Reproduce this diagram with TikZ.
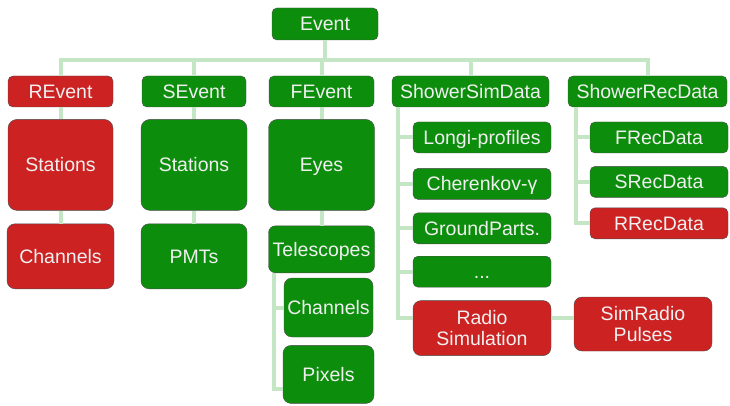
\documentclass[tikz,border=0pt]{standalone}
\usepackage{fontspec}
\setmainfont{Liberation Sans}
\usepackage{tikz}
\usetikzlibrary{calc}
\usetikzlibrary{positioning}
\definecolor{evgreen}{RGB}{12,142,12}
\definecolor{evred}{RGB}{204,34,34}
\definecolor{linkgreen}{RGB}{196,230,196}

\begin{document}
\begin{tikzpicture}[x=1pt,y=1pt]
\tikzstyle{gbox}=[draw=black!70, fill=evgreen, text=white!94!black, rounded 
corners=5pt, inner sep=1pt, align=center, minimum height=31pt, text depth=0pt, 
font=\fontsize{19.5}{21}\selectfont]
\tikzstyle{rbox}=[gbox, fill=evred]
\tikzstyle{link}=[line width=4pt, draw=linkgreen]
	\useasboundingbox (0,0) rectangle (730,-406);

	% top
	\node [gbox, minimum width = 106pt, minimum height = 32pt] (Event) at 
	(325,-24) {Event};
	\coordinate (bus) at (325,-60);

	% sub events
	\node [rbox, minimum width = 105pt] (REvent) at (60.5,-91.5) {REvent};
	\node [gbox, minimum width = 104pt] (SEvent) at (194,-91.5) {SEvent};
	\node [gbox, minimum width = 105pt] (FEvent) at (321.5,-91.5) {FEvent};
	\node [gbox, minimum width = 157pt] (ShowerSimData) at (470.5,-91.5) 
	{ShowerSimData};
	\node [gbox, minimum width = 159pt] (ShowerRecData) at (647.5,-91.5) 
	{ShowerRecData};

	% stations
	\node [rbox, minimum width = 105pt, minimum height = 91pt, rounded 
	corners = 9pt, below = 12pt of REvent] (RStations) {Stations};
	\node [gbox, minimum width = 106pt, minimum height = 91pt, rounded 
	corners = 9pt, below = 12pt of SEvent] (SStations) {Stations};
	\node [gbox, minimum width = 106pt, minimum height = 91pt, rounded 
	corners = 9pt, below = 12pt of FEvent] (Eyes) {Eyes};

	% channels
	\node [rbox, minimum width = 107pt, minimum height = 65pt, rounded 
	corners = 8pt, below = 13pt of RStations] (RChannels) {Channels};
	\node [gbox, minimum width = 106pt, minimum height = 65pt, rounded 
	corners = 8pt, below = 13pt of SStations] (PMTs) {PMTs};
	\node [gbox, minimum width = 106pt, minimum height = 47pt, rounded 
	corners = 7pt, below = 15pt of Eyes] (Telescopes) {Telescopes};
	\node [gbox, minimum width = 89pt, minimum height = 59pt, rounded 
	corners = 8pt] (FChannels) at (328.5,-307.5) {Channels};
	\node [gbox, minimum width = 91pt, minimum height = 58pt, rounded 
	corners = 8pt, below = 8pt of FChannels] (Pixels) {Pixels};

	% simulated data
	\node [gbox, minimum width = 138pt] (LongiProfiles) at (482,-137.5) 
	{Longi-profiles};
	\node [gbox, minimum width = 138pt, below = 15pt of LongiProfiles] 
	(Cherenkov) {Cherenkov-γ};
	\node [gbox, minimum width = 138pt, below = 13pt of Cherenkov] 
	(GroundParts) {GroundParts.};
	\node [gbox, minimum width = 138pt, text height = 14pt, below = 12pt of 
	GroundParts] (SimDots) {...};
	\node [rbox, minimum width = 138pt, minimum height = 55pt, rounded 
	corners = 8pt, below = 13pt of SimDots] (RadioSim) {Radio\\Simulation};
	\node [rbox, minimum width = 138pt, minimum height = 54pt, rounded 
	corners = 8pt] (SimRadio) at (643,-324) {SimRadio\\Pulses};

	% reconstructed data
	\node [gbox, minimum width = 138pt] (FRecData) at (659,-137.5) {FRecData};
	\node [gbox, minimum width = 138pt, below = 13pt of FRecData] (SRecData) 
	{SRecData};
	\node [rbox, minimum width = 138pt, below = 10pt of SRecData] (RRecData) 
	{RRecData};

	% links to event
	\draw [link] (Event.south) -- (bus);
	\draw [link, line cap = rect] (REvent.north |- bus) -- 
	(ShowerRecData.north |- bus);
	\draw [link] (REvent.north) -- (REvent.north |- bus);
	\draw [link] (SEvent.north) -- (SEvent.north |- bus);
	\draw [link] (FEvent.north) -- (FEvent.north |- bus);
	\draw [link] (ShowerSimData.north) -- (ShowerSimData.north |- bus);
	\draw [link] (ShowerRecData.north) -- (ShowerRecData.north |- bus);

	% detector links
	\draw [link] (REvent.south) -- (RStations.north);
	\draw [link] (RStations.south) -- (RChannels.north);
	\draw [link] (SEvent.south) -- (SStations.north);
	\draw [link] (SStations.south) -- (PMTs.north);
	\draw [link] (FEvent.south) -- (Eyes.north);
	\draw [link] (Eyes.south) -- (Telescopes.north);
	\coordinate (ftrunk) at ([xshift = 6pt]Telescopes.south west);
	\draw [link] (ftrunk) |- ([yshift = 15pt]Pixels.south west);
	\draw [link] (FChannels.west) -- (FChannels.west -| ftrunk);

	% simulation links
	\coordinate (simtrunk) at ([xshift = 6pt]ShowerSimData.south west);
	\coordinate (radiolink) at ([yshift = -18pt]RadioSim.north east);
	\draw [link] (simtrunk) |- ([yshift = -18pt]RadioSim.north west);
	\draw [link] (LongiProfiles.west) -- (LongiProfiles.west -| simtrunk);
	\draw [link] (Cherenkov.west) -- (Cherenkov.west -| simtrunk);
	\draw [link] (GroundParts.west) -- (GroundParts.west -| simtrunk);
	\draw [link] (SimDots.west) -- (SimDots.west -| simtrunk);
	\draw [link] (radiolink) -- (radiolink -| SimRadio.west);

	% reconstruction links
	\coordinate (rectrunk) at ([xshift = 8pt]ShowerRecData.south west);
	\draw [link] (rectrunk) |- (RRecData.west);
	\draw [link] (FRecData.west) -- (FRecData.west -| rectrunk);
	\draw [link] (SRecData.west) -- (SRecData.west -| rectrunk);
\end{tikzpicture}
\end{document}
